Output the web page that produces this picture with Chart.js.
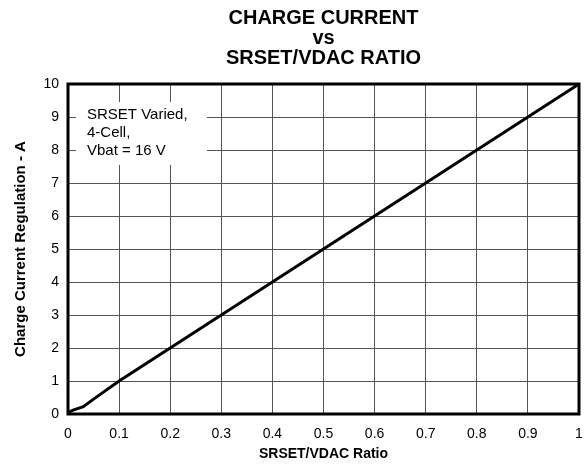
<!DOCTYPE html>
<html><head><meta charset="utf-8">
<script src="https://cdn.jsdelivr.net/npm/chart.js@4.4.1/dist/chart.umd.min.js"></script>
<style>html,body{margin:0;padding:0;background:#fff}#wrap{width:587px;height:469px}</style>
</head><body><div id="wrap"><canvas id="c" width="587" height="469"></canvas></div>
<script>
const titleLines = ["CHARGE CURRENT", "vs", "SRSET/VDAC RATIO"];
const ratio = [0, 0.01, 0.03, 0.05, 0.1, 0.2, 0.3, 0.4, 0.5, 0.6, 0.7, 0.8, 0.9, 1.0];
const current = [0.05, 0.12, 0.22, 0.45, 1, 2, 3, 4, 5, 6, 7, 8, 9, 10];
const noteLines = ["SRSET Varied,", "4-Cell,", "Vbat = 16 V"];
const xTitle = "SRSET/VDAC Ratio";
const yTitle = "Charge Current Regulation - A";

const FONT = "'Liberation Sans', Arial, sans-serif";

const overlay = {
  id: 'overlay',
  afterDatasetsDraw(chart) {
    const ctx = chart.ctx, a = chart.chartArea;
    ctx.save();
    ctx.fillStyle = '#fff';
    ctx.fillRect(a.left + 8, a.top + 18, 131, 63);
    ctx.fillStyle = '#000';
    ctx.font = '15px ' + FONT;
    ctx.textBaseline = 'middle';
    ctx.textAlign = 'left';
    noteLines.forEach((t, i) => ctx.fillText(t, a.left + 19, a.top + 31 + i * 18));
    ctx.strokeStyle = '#000';
    ctx.lineWidth = 3;
    ctx.strokeRect(a.left, a.top, a.right - a.left, a.bottom - a.top);
    ctx.font = 'bold 20px ' + FONT;
    ctx.textAlign = 'center';
    const cx = (a.left + a.right) / 2;
    const ys = [18, 38, 58];
    titleLines.forEach((t, i) => ctx.fillText(t, cx, ys[i]));
    ctx.restore();
  }
};

new Chart(document.getElementById('c'), {
  type: 'line',
  data: {
    datasets: [{
      data: ratio.map((x, i) => ({x: x, y: current[i]})),
      borderColor: '#000',
      borderWidth: 3,
      pointRadius: 0,
      tension: 0,
      fill: false
    }]
  },
  options: {
    responsive: false,
    animation: false,
    devicePixelRatio: 1,
    layout: {padding: {top: 84, left: 12, right: 8, bottom: 5}},
    plugins: {legend: {display: false}, tooltip: {enabled: false}, title: {display: false}},
    scales: {
      x: {
        type: 'linear', min: 0, max: 1,
        afterFit(s) { s.height = 50; s.paddingLeft = 0; s.paddingRight = 0; },
        ticks: {stepSize: 0.1, color: '#000', font: {size: 14, family: FONT}, padding: 12,
          callback: v => (Math.round(v * 10) / 10).toString()},
        grid: {color: '#555', lineWidth: 1, drawTicks: false},
        border: {display: false},
        title: {display: true, text: xTitle, color: '#000', font: {size: 14, weight: 'bold', family: FONT}, padding: {top: 2, bottom: 1}}
      },
      y: {
        min: 0, max: 10,
        afterFit(s) { s.width = 56; s.paddingTop = 0; s.paddingBottom = 0; },
        ticks: {stepSize: 1, color: '#000', font: {size: 14, family: FONT}, padding: 9},
        grid: {color: '#555', lineWidth: 1, drawTicks: false},
        border: {display: false},
        title: {display: true, text: yTitle, color: '#000', font: {size: 15, weight: 'bold', family: FONT}, padding: {top: 0, bottom: 0}}
      }
    }
  },
  plugins: [overlay]
});
</script></body></html>
